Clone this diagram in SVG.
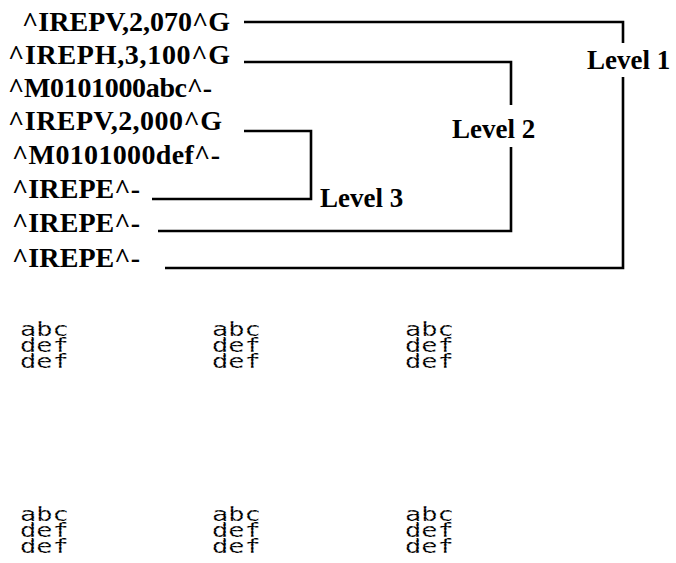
<svg xmlns="http://www.w3.org/2000/svg" width="676" height="563" viewBox="0 0 676 563">
<style>
.cmd{font-family:"Liberation Serif","Times New Roman",serif;font-weight:bold;font-size:28px;fill:#000}
.lvl{font-family:"Liberation Serif","Times New Roman",serif;font-weight:bold;font-size:27px;fill:#000}
.wire{fill:none;stroke:#000;stroke-width:2.6}
.lcd{font-family:"DejaVu Sans Mono",monospace;font-size:20px;fill:#000;stroke:#fff;stroke-width:0.5;stroke-dasharray:1.3 2.4}
</style>
<rect width="676" height="563" fill="#fff"/>
<g id="commands">
<text class="cmd" x="22" y="31" textLength="208">^IREPV,2,070^G</text>
<text class="cmd" x="8" y="64" textLength="222">^IREPH,3,100^G</text>
<text class="cmd" x="8" y="97" textLength="204">^M0101000abc^-</text>
<text class="cmd" x="8" y="130" textLength="214">^IREPV,2,000^G</text>
<text class="cmd" x="12" y="164" textLength="208">^M0101000def^-</text>
<text class="cmd" x="12" y="198" textLength="128">^IREPE^-</text>
<text class="cmd" x="12" y="232" textLength="128">^IREPE^-</text>
<text class="cmd" x="12" y="267" textLength="128">^IREPE^-</text>
</g>
<g id="level1"><text class="lvl" x="587" y="69">Level 1</text></g>
<g id="level2"><text class="lvl" x="452" y="138">Level 2</text></g>
<g id="level3"><text class="lvl" x="320" y="207">Level 3</text></g>
<g id="connectors">
<polyline class="wire" points="244,22 623,22 623,43"/>
<polyline class="wire" points="623,77 623,268 165,268"/>
<polyline class="wire" points="244,62 511,62 511,105"/>
<polyline class="wire" points="511,147 511,231 158,231"/>
<polyline class="wire" points="244,131 311,131 311,199 152,199"/>
</g>
<g id="display">
<g transform="translate(20,336) scale(1.35,1)"><text class="lcd" x="0" y="0">abc</text><text class="lcd" x="0" y="16">def</text><text class="lcd" x="0" y="32">def</text></g>
<g transform="translate(212,336) scale(1.35,1)"><text class="lcd" x="0" y="0">abc</text><text class="lcd" x="0" y="16">def</text><text class="lcd" x="0" y="32">def</text></g>
<g transform="translate(405,336) scale(1.35,1)"><text class="lcd" x="0" y="0">abc</text><text class="lcd" x="0" y="16">def</text><text class="lcd" x="0" y="32">def</text></g>
<g transform="translate(20,521) scale(1.35,1)"><text class="lcd" x="0" y="0">abc</text><text class="lcd" x="0" y="16">def</text><text class="lcd" x="0" y="32">def</text></g>
<g transform="translate(212,521) scale(1.35,1)"><text class="lcd" x="0" y="0">abc</text><text class="lcd" x="0" y="16">def</text><text class="lcd" x="0" y="32">def</text></g>
<g transform="translate(405,521) scale(1.35,1)"><text class="lcd" x="0" y="0">abc</text><text class="lcd" x="0" y="16">def</text><text class="lcd" x="0" y="32">def</text></g>
</g>
</svg>
